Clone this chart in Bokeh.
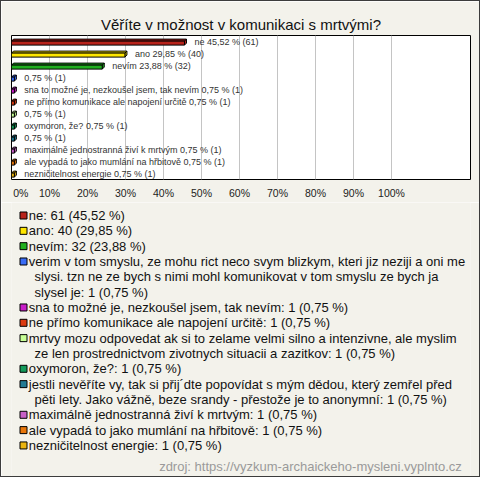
from bokeh.plotting import figure
from bokeh.models import Range1d, FixedTicker
from bokeh.layouts import column
from bokeh.embed import file_html
from bokeh.resources import INLINE
from bokeh.core.properties import value

# ---------------- data ----------------
title_text = "Věříte v možnost v komunikaci s mrtvými?"
source_text = "zdroj: https://vyzkum-archaickeho-mysleni.vyplnto.cz"

categories = [
    "ne",
    "ano",
    "nevím",
    "verim v tom smyslu, ze mohu rict neco svym blizkym, kteri jiz neziji a oni me slysi. tzn ne ze bych s nimi mohl komunikovat v tom smyslu ze bych ja slysel je",
    "sna to možné je, nezkoušel jsem, tak nevím",
    "ne přímo komunikace ale napojení určitě",
    "mrtvy mozu odpovedat ak si to zelame velmi silno a intenzivne, ale myslim ze len prostrednictvom zivotnych situacii a zazitkov",
    "oxymoron, že?",
    "jestli nevěříte vy, tak si přij´dte popovídat s mým dědou, který zemřel před pěti lety. Jako vážně, beze srandy - přestože je to anonymní",
    "maximálně jednostranná živí k mrtvým",
    "ale vypadá to jako mumlání na hřbitově",
    "nezničitelnost energie",
]
counts = [61, 40, 32, 1, 1, 1, 1, 1, 1, 1, 1, 1]
percents = [45.52, 29.85, 23.88, 0.75, 0.75, 0.75, 0.75, 0.75, 0.75, 0.75, 0.75, 0.75]
# names shown next to the bars (long answers are omitted in the chart)
bar_names = [
    "ne", "ano", "nevím", "",
    "sna to možné je, nezkoušel jsem, tak nevím",
    "ne přímo komunikace ale napojení určitě", "",
    "oxymoron, že?", "",
    "maximálně jednostranná živí k mrtvým",
    "ale vypadá to jako mumlání na hřbitově",
    "nezničitelnost energie",
]
colors = ["#B8231B", "#FFE600", "#20B020", "#3A6CF6", "#C81EC8", "#DC3A10",
          "#C8FF96", "#139A5A", "#217A93", "#C760C7", "#E8760A", "#EAB410"]
# legend text with the original line breaks
legend_wrapped = [
    None, None, None,
    "verim v tom smyslu, ze mohu rict neco svym blizkym, kteri jiz neziji a oni me\nslysi. tzn ne ze bych s nimi mohl komunikovat v tom smyslu ze bych ja\nslysel je",
    None, None,
    "mrtvy mozu odpovedat ak si to zelame velmi silno a intenzivne, ale myslim\nze len prostrednictvom zivotnych situacii a zazitkov",
    None,
    "jestli nevěříte vy, tak si přij´dte popovídat s mým dědou, který zemřel před\npěti lety. Jako vážně, beze srandy - přestože je to anonymní",
    None, None, None,
]
tick_values = [0, 10, 20, 30, 40, 50, 60, 70, 80, 90, 100]
tick_labels = ["0%", "10%", "20%", "30%", "40%", "50%", "60%", "70%", "80%", "90%", "100%"]

# ---------------- styling ----------------
BG = "#F3F2EB"
FONT = "Liberation Sans"
W = 478
H1 = 201
H2 = 274
FRAME_W = 459
FRAME_H = 144
PX_PER_PCT = 3.8
X_MAX = FRAME_W / PX_PER_PCT
N = len(categories)


def fmt_pct(v):
    return f"{v:.2f}".replace(".", ",")


# ---------------- chart ----------------
p = figure(width=W, height=H1, output_backend="svg", toolbar_location=None,
           x_range=Range1d(0, X_MAX), y_range=Range1d(N, 0),
           min_border_left=10, min_border_right=W - 10 - FRAME_W,
           min_border_top=34, min_border_bottom=H1 - 34 - FRAME_H,
           background_fill_color="white", border_fill_color=BG,
           outline_line_color="black", outline_line_width=1, outline_line_alpha=1)
p.title.text = title_text
p.title.align = "center"
p.title.offset = -2
p.title.standoff = 5
p.title.text_font = FONT
p.title.text_font_size = "15px"
p.title.text_font_style = "normal"
p.title.text_color = "#111111"

p.yaxis.visible = False
p.ygrid.visible = False
p.xgrid.ticker = FixedTicker(ticks=tick_values[1:])
p.xgrid.grid_line_color = "#C4C4C4"
p.xgrid.grid_line_width = 1

ax = p.xaxis[0]
ax.ticker = FixedTicker(ticks=tick_values)
overrides = {t: l for t, l in zip(tick_values, tick_labels)}
overrides[0] = "\u2007\u2007" + tick_labels[0]
ax.major_label_overrides = overrides
ax.axis_line_color = None
ax.major_tick_line_color = None
ax.minor_tick_line_color = None
ax.major_tick_out = 0
ax.major_tick_in = 0
ax.minor_tick_out = 0
ax.major_label_standoff = 7
ax.major_label_text_font = FONT
ax.major_label_text_font_size = "10.5px"
ax.major_label_text_color = "#222222"

dx = 2 / PX_PER_PCT            # 3D depth, 2px horizontally
dy = 2 * N / FRAME_H           # 3D depth, 2px vertically
fh = 4 * N / FRAME_H           # front face height (4px)
centers = [i + 0.55 for i in range(N)]
f_top = [c - fh / 2 + dy / 2 for c in centers]
f_bot = [c + fh / 2 + dy / 2 for c in centers]

top_xs, top_ys, side_xs, side_ys = [], [], [], []
for v, t, b in zip(percents, f_top, f_bot):
    top_xs.append([0, dx, v + dx, v])
    top_ys.append([t, t - dy, t - dy, t])
    side_xs.append([v, v + dx, v + dx, v])
    side_ys.append([t, t - dy, b - dy, b])

p.patches(top_xs, top_ys, fill_color=colors, line_color="black", line_width=1)
p.patches(side_xs, side_ys, fill_color=colors, line_color="black", line_width=1)
p.quad(left=[0] * N, right=percents, top=f_top, bottom=f_bot,
       fill_color=colors, line_color="black", line_width=1)

bar_labels = [(f"{n} " if n else "") + f"{fmt_pct(v)} % ({c})"
              for n, v, c in zip(bar_names, percents, counts)]
p.text(x=percents, y=centers, text=bar_labels, x_offset=10,
       text_baseline="middle", text_align="left",
       text_font=value(FONT), text_font_size="9px", text_color="#333333")

# ---------------- legend panel ----------------
LINE_H = 15.33
q = figure(width=W, height=H2, output_backend="svg", toolbar_location=None,
           x_range=Range1d(0, W), y_range=Range1d(H2, 0),
           min_border=0, background_fill_color=BG, border_fill_color=BG,
           outline_line_color=None)
q.axis.visible = False
q.grid.visible = False

sq_y, line_x, line_y, line_text = [], [], [], []
row = 0
for cat, cnt, pct, wrapped in zip(categories, counts, percents, legend_wrapped):
    label = (wrapped if wrapped else cat) + f": {cnt} ({fmt_pct(pct)} %)"
    lines = label.split("\n")
    sq_y.append(13 + LINE_H * row)
    for k, ln in enumerate(lines):
        line_y.append(13 + LINE_H * (row + k))
        line_text.append(ln)
        line_x.append(18 if k == 0 else 24)
    row += len(lines)

q.rect(x=[12.5] * N, y=sq_y, width=7, height=7, width_units="screen", height_units="screen",
       fill_color=colors, line_color="black", line_width=1)
q.text(x=line_x, y=line_y, text=line_text, text_baseline="middle", text_align="left",
       text_font=value(FONT), text_font_size="13px", text_color="#111111")
q.text(x=[469], y=[264], text=[source_text], text_baseline="middle", text_align="right",
       text_font=value(FONT), text_font_size="13px", text_color="#9A9A9A")

layout = column(p, q, spacing=0, styles={"border": "1px solid #3c3c3c"})
open("out.html", "w").write(file_html(layout, INLINE))
